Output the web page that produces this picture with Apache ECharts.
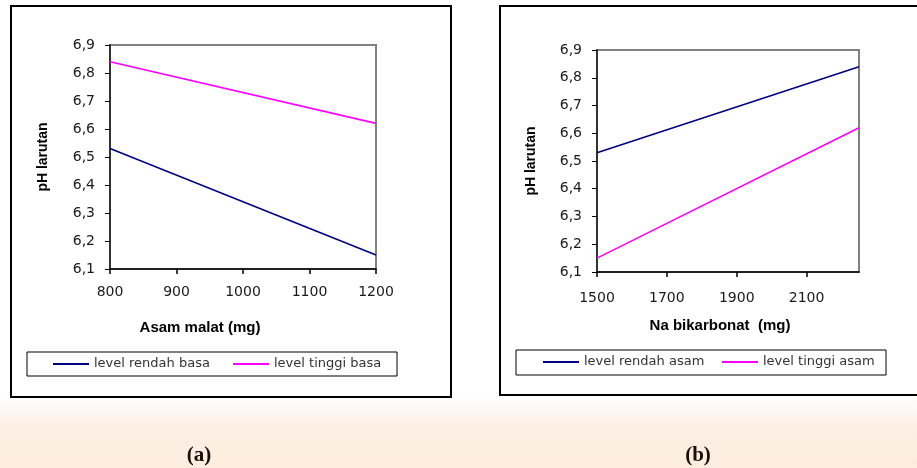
<!DOCTYPE html>
<html>
<head>
<meta charset="utf-8">
<script src="https://cdn.jsdelivr.net/npm/echarts@6/dist/echarts.min.js"></script>
<style>
  html, body { margin: 0; padding: 0; background: #ffffff; }
  #chart { width: 917px; height: 468px; }
</style>
</head>
<body>
<div id="chart"></div>
<script>
// (a) Asam malat levels (mg) and solution pH at low / high base level
const asamMalat = [800, 1200];
const phRendahBasa = [6.53, 6.15];
const phTinggiBasa = [6.84, 6.62];
const asamTicks = [800, 900, 1000, 1100, 1200];

// (b) Na bikarbonat levels (mg) and solution pH at low / high acid level
const naBikarbonat = [1500, 2250];
const phRendahAsam = [6.53, 6.84];
const phTinggiAsam = [6.15, 6.62];
const naTicks = [1500, 1700, 1900, 2100];

// shared pH axis
const phMin = 6.1, phMax = 6.9, phStep = 0.1;

const NAVY = '#000080';
const MAGENTA = '#ff00ff';
const TICK_FONT = 'DejaVu Sans';
const TITLE_FONT = 'Liberation Sans';

const pairs = (xs, ys) => xs.map((x, i) => [x, ys[i]]);
const commaDecimal = v => v.toFixed(1).replace('.', ',');

function yAxisFor(gridIndex, gap) {
  return {
    type: 'value', gridIndex,
    min: phMin, max: phMax, interval: phStep,
    name: 'pH larutan', nameLocation: 'middle', nameGap: gap,
    nameTextStyle: { fontFamily: TITLE_FONT, fontWeight: 'bold', fontSize: 14, color: '#000' },
    axisLine: { show: true, lineStyle: { color: '#333', width: 2 } },
    axisTick: { show: true, length: 5, lineStyle: { color: '#000', width: 1 } },
    axisLabel: { margin: 15, fontFamily: TICK_FONT, fontSize: 14, color: '#1a1a1a', formatter: commaDecimal },
    splitLine: { show: false }
  };
}

function xAxisFor(gridIndex, range, ticks, name, gap, shift, labelMargin) {
  return {
    type: 'value', gridIndex, min: range[0], max: range[range.length - 1],
    name, nameLocation: 'middle', nameGap: gap,
    nameTextStyle: { fontFamily: TITLE_FONT, fontWeight: 'bold', fontSize: 15, color: '#000',
                     padding: [0, shift, 0, 0] },
    axisLine: { show: true, lineStyle: { color: '#000', width: 1.5 } },
    axisTick: { show: true, length: 5, customValues: ticks, lineStyle: { color: '#000', width: 1.5 } },
    axisLabel: { margin: labelMargin, customValues: ticks, fontFamily: TICK_FONT, fontSize: 14,
                 color: '#1a1a1a', formatter: v => String(v) },
    splitLine: { show: false }
  };
}

function lineSeries(name, xi, xs, ys, color) {
  return {
    type: 'line', name, xAxisIndex: xi, yAxisIndex: xi,
    data: pairs(xs, ys), symbol: 'none', color,
    lineStyle: { color, width: 1.6 }, animation: false
  };
}

function legendItem(name, left, top) {
  return {
    data: [name], left, top, padding: 0, icon: 'rect',
    itemWidth: 36, itemHeight: 2, itemGap: 0,
    textStyle: { fontFamily: TICK_FONT, fontSize: 13, color: '#333', lineHeight: 16 }
  };
}

const chart = echarts.init(document.getElementById('chart'), null, { renderer: 'canvas' });

chart.setOption({
  backgroundColor: 'transparent',
  animation: false,
  grid: [
    { left: 110, top: 45, width: 266, height: 224, show: true,
      borderColor: '#808080', borderWidth: 2, backgroundColor: 'transparent' },
    { left: 597, top: 50, width: 262, height: 222, show: true,
      borderColor: '#808080', borderWidth: 2, backgroundColor: 'transparent' }
  ],
  xAxis: [
    xAxisFor(0, asamMalat, asamTicks, 'Asam malat (mg)', 51, 86, 16),
    xAxisFor(1, naBikarbonat, naTicks, 'Na bikarbonat  (mg)', 46, 16, 19)
  ],
  yAxis: [yAxisFor(0, 60), yAxisFor(1, 59)],
  legend: [
    legendItem('level rendah basa', 53, 356),
    legendItem('level tinggi basa', 233, 356),
    legendItem('level rendah asam', 543, 354),
    legendItem('level tinggi asam', 722, 354)
  ],
  series: [
    lineSeries('level rendah basa', 0, asamMalat, phRendahBasa, NAVY),
    lineSeries('level tinggi basa', 0, asamMalat, phTinggiBasa, MAGENTA),
    lineSeries('level rendah asam', 1, naBikarbonat, phRendahAsam, NAVY),
    lineSeries('level tinggi asam', 1, naBikarbonat, phTinggiAsam, MAGENTA)
  ],
  graphic: [
    // soft pale tint fading in along the bottom strip
    { type: 'rect', silent: true, z: -10, shape: { x: 0, y: 396, width: 917, height: 72 },
      style: { fill: new echarts.graphic.LinearGradient(0, 0, 0, 1, [
        { offset: 0, color: 'rgba(252,236,222,0)' },
        { offset: 0.45, color: 'rgba(252,236,222,0.85)' },
        { offset: 1, color: 'rgba(252,236,222,0.95)' }
      ]) } },
    // chart frames
    { type: 'rect', silent: true, z: 100, shape: { x: 11, y: 6, width: 440, height: 391 },
      style: { fill: 'none', stroke: '#000', lineWidth: 2 } },
    { type: 'rect', silent: true, z: 100, shape: { x: 500, y: 6, width: 440, height: 389 },
      style: { fill: 'none', stroke: '#000', lineWidth: 2 } },
    // legend frames
    { type: 'rect', silent: true, z: 100, shape: { x: 27, y: 352, width: 370, height: 24 },
      style: { fill: 'none', stroke: '#000', lineWidth: 1 } },
    { type: 'rect', silent: true, z: 100, shape: { x: 516, y: 350, width: 370, height: 25 },
      style: { fill: 'none', stroke: '#000', lineWidth: 1 } },
    // panel captions
    { type: 'text', silent: true, z: 100, x: 199, y: 456,
      style: { text: '(a)', fill: '#1a1008', font: 'bold 21px "Liberation Serif"',
               textAlign: 'center', textVerticalAlign: 'middle' } },
    { type: 'text', silent: true, z: 100, x: 698, y: 456,
      style: { text: '(b)', fill: '#1a1008', font: 'bold 21px "Liberation Serif"',
               textAlign: 'center', textVerticalAlign: 'middle' } }
  ]
});
</script>
</body>
</html>
